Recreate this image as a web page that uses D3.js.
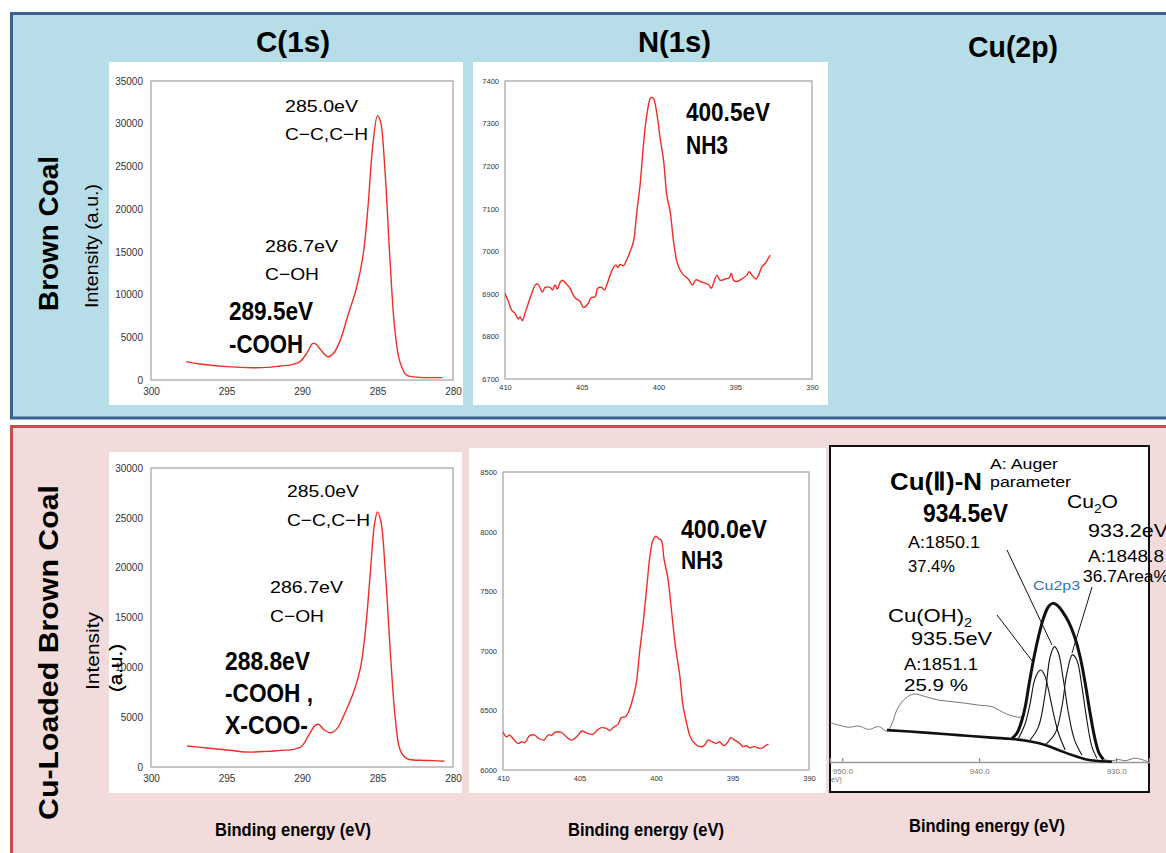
<!DOCTYPE html>
<html>
<head>
<meta charset="utf-8">
<script src="https://cdn.jsdelivr.net/npm/d3@7"></script>
<style>
  html, body { margin: 0; padding: 0; background: #ffffff; }
  svg { display: block; }
</style>
</head>
<body>
<svg id="fig" width="1166" height="853"></svg>
<script>
// ---------- spectra: binding energy (eV) and counts ----------
const c1sBrownEnergy = [297.67, 296.74, 294.98, 293.22, 292.33, 291.45, 290.57, 290.13, 289.69, 289.3, 289.1, 288.75, 288.3, 287.95, 287.5, 286.95, 286.4, 285.95, 285.62, 285.33, 285.0, 284.8, 284.5, 284.19, 283.86, 283.52, 283.08, 282.2, 281.32, 280.7];
const c1sBrownCounts = [2150, 1870, 1560, 1440, 1480, 1640, 1830, 2150, 3120, 4250, 4230, 3510, 2730, 3040, 4490, 7610, 10730, 14630, 20490, 27120, 30950, 30240, 24390, 14630, 6050, 2150, 590, 310, 275, 275];

const c1sCuEnergy = [297.62, 296.29, 294.97, 293.64, 292.32, 291.43, 290.55, 290.0, 289.56, 289.12, 288.9, 288.57, 288.12, 287.68, 287.13, 286.58, 286.14, 285.81, 285.47, 285.21, 285.0, 284.77, 284.48, 284.15, 283.82, 283.49, 283.05, 282.16, 281.28, 280.57];
const c1sCuCounts = [2110, 1910, 1710, 1500, 1570, 1670, 1770, 2110, 3180, 4180, 4280, 3780, 3440, 3850, 5520, 7520, 9870, 13540, 19560, 24240, 25600, 24580, 19560, 11540, 4850, 1670, 840, 670, 640, 570];

const n1sBrownEnergy = [410.0, 409.78, 409.57, 409.35, 409.13, 409.02, 408.87, 408.7, 408.48, 408.26, 408.0, 407.83, 407.57, 407.39, 407.07, 406.91, 406.74, 406.59, 406.41, 406.26, 406.04, 405.76, 405.61, 405.39, 405.11, 404.89, 404.57, 404.39, 404.13, 403.96, 403.7, 403.52, 403.37, 403.15, 402.93, 402.78, 402.65, 402.5, 402.28, 402.07, 401.85, 401.63, 401.41, 401.2, 400.98, 400.76, 400.5, 400.33, 400.11, 399.89, 399.67, 399.46, 399.24, 399.02, 398.8, 398.59, 398.37, 398.09, 397.78, 397.57, 397.28, 396.96, 396.74, 396.57, 396.41, 396.2, 395.98, 395.65, 395.39, 395.26, 395.11, 394.89, 394.57, 394.24, 394.09, 393.91, 393.65, 393.48, 393.26, 393.04, 392.87, 392.72];
const n1sBrownCounts = [6901, 6882, 6862, 6854, 6841, 6846, 6837, 6854, 6878, 6901, 6922, 6922, 6904, 6915, 6915, 6909, 6921, 6911, 6927, 6932, 6925, 6913, 6901, 6889, 6882, 6868, 6878, 6891, 6893, 6913, 6915, 6909, 6921, 6944, 6962, 6968, 6962, 6969, 6966, 6980, 6999, 7023, 7093, 7156, 7250, 7320, 7361, 7359, 7324, 7265, 7214, 7132, 7093, 7023, 6976, 6956, 6944, 6936, 6921, 6933, 6929, 6925, 6922, 6913, 6925, 6944, 6932, 6935, 6938, 6948, 6932, 6929, 6935, 6944, 6952, 6944, 6935, 6944, 6964, 6972, 6982, 6991];

const n1sCuEnergy = [410.0, 409.78, 409.56, 409.35, 409.02, 408.76, 408.58, 408.26, 407.93, 407.67, 407.32, 407.06, 406.8, 406.62, 406.19, 405.86, 405.53, 405.14, 404.84, 404.49, 404.12, 403.83, 403.57, 403.25, 403.03, 402.81, 402.48, 402.27, 402.0, 401.79, 401.57, 401.29, 401.07, 400.81, 400.57, 400.39, 400.2, 400.0, 399.83, 399.65, 399.48, 399.22, 399.0, 398.74, 398.45, 398.24, 398.02, 397.76, 397.47, 397.15, 396.86, 396.6, 396.34, 396.06, 395.84, 395.56, 395.29, 395.12, 394.86, 394.53, 394.31, 394.1, 393.88, 393.55, 393.29, 393.01, 392.79, 392.64];
const n1sCuCounts = [6321, 6279, 6293, 6265, 6223, 6237, 6229, 6288, 6293, 6265, 6251, 6293, 6293, 6316, 6316, 6279, 6251, 6285, 6327, 6307, 6299, 6335, 6355, 6349, 6330, 6355, 6383, 6439, 6447, 6489, 6573, 6726, 6992, 7271, 7578, 7802, 7927, 7961, 7941, 7927, 7774, 7606, 7355, 7047, 6796, 6545, 6405, 6279, 6223, 6196, 6204, 6251, 6237, 6223, 6237, 6204, 6237, 6271, 6251, 6223, 6196, 6204, 6187, 6196, 6182, 6187, 6209, 6215];

// Cu 2p3/2 region (arbitrary intensity units)
const cuRawEnergy = [950.88, 950.27, 949.54, 948.81, 948.08, 947.35, 946.74, 946.37, 946.01, 945.52, 944.8, 943.94, 942.97, 941.99, 941.02, 940.05, 939.07, 938.34, 937.61, 936.88, 936.64, 936.35, 936.04, 935.67, 935.31, 934.94, 934.65, 934.33, 933.92, 933.48, 933.04, 932.63, 932.26, 931.9, 931.53, 931.24, 931.04, 930.31, 929.83, 929.34, 928.61, 927.69];
const cuRawCounts = [12.4, 11.7, 11.0, 11.4, 10.3, 11.2, 9.8, 12.2, 16.5, 19.6, 21.5, 20.7, 19.6, 19.1, 18.6, 18.0, 17.5, 15.9, 14.6, 14.3, 17.5, 24.9, 32.3, 39.7, 45.5, 49.2, 50.2, 49.7, 47.6, 44.4, 39.7, 33.3, 24.9, 15.4, 7.0, 2.7, 1.2, 0.4, 0.8, 0.4, 1.2, 0.1];
const cuEnvelopeEnergy = [937.61, 937.25, 936.88, 936.64, 936.35, 936.04, 935.67, 935.31, 934.94, 934.65, 934.33, 933.92, 933.48, 933.04, 932.63, 932.26, 931.9, 931.53, 931.24, 930.93];
const cuEnvelopeCounts = [7.5, 9.1, 13.3, 17.5, 24.9, 32.3, 39.7, 45.5, 49.2, 50.2, 49.7, 47.6, 44.4, 39.7, 33.3, 24.9, 15.4, 7.0, 2.7, 0.8];
const cuBackgroundEnergy = [946.74, 943.94, 941.51, 939.07, 937.61, 936.15, 935.18, 934.21, 933.23, 932.26, 931.29, 930.31];
const cuBackgroundCounts = [10.1, 9.3, 8.5, 7.7, 7.3, 6.4, 5.4, 3.8, 2.2, 0.9, 0.3, 0.1];
const cuOHEnergy = [937.13, 936.64, 936.28, 935.96, 935.67, 935.5, 935.23, 934.94, 934.58, 934.21, 933.72];
const cuOHCounts = [7.5, 12.2, 18.6, 25.9, 28.6, 29.1, 27.5, 22.8, 15.4, 9.1, 3.8];
const cuNEnergy = [936.28, 935.67, 935.18, 934.82, 934.5, 934.21, 933.85, 933.48, 933.04, 932.5];
const cuNCounts = [7.0, 11.2, 21.7, 33.3, 36.5, 34.4, 25.9, 15.4, 7.0, 2.2];
const cu2OEnergy = [935.18, 934.45, 933.96, 933.6, 933.2, 932.87, 932.5, 932.14, 931.77, 931.41];
const cu2OCounts = [5.4, 9.1, 17.5, 28.1, 33.9, 32.3, 23.8, 13.3, 4.8, 1.2];

// ---------- axis ticks ----------
const c1sTicksX = [300, 295, 290, 285, 280];
const c1sBrownTicksY = [0, 5000, 10000, 15000, 20000, 25000, 30000, 35000];
const c1sCuTicksY = [0, 5000, 10000, 15000, 20000, 25000, 30000];
const n1sTicksX = [410, 405, 400, 395, 390];
const n1sBrownTicksY = [6700, 6800, 6900, 7000, 7100, 7200, 7300, 7400];
const n1sCuTicksY = [6000, 6500, 7000, 7500, 8000, 8500];
const cuTicksX = [950, 940, 930];

// ---------- text ----------
const columnTitles = ["C(1s)", "N(1s)", "Cu(2p)"];
const rowTitles = ["Brown Coal", "Cu-Loaded Brown Coal"];
const xTitle = "Binding energy (eV)";

const svg = d3.select("#fig");
const SANS = "'Liberation Sans', Arial, 'Noto Sans CJK JP', sans-serif";
const NARROW = "'Liberation Sans Narrow', 'Liberation Sans', Arial, sans-serif";
const LINE_RED = "#ee2e24";

// ---------- bands ----------
svg.append("rect").attr("x", 11.5).attr("y", 13.5).attr("width", 1170).attr("height", 404.5)
  .attr("fill", "#b7dde8").attr("stroke", "#3b6192").attr("stroke-width", 3);
svg.append("rect").attr("x", 11.5).attr("y", 426.5).attr("width", 1170).attr("height", 440)
  .attr("fill", "#f2dcdb").attr("stroke", "#c0504d").attr("stroke-width", 3);

// ---------- white chart cards ----------
[[109, 62, 354, 343], [473, 62, 355, 343], [109, 452, 353, 341], [469, 448, 357, 345]].forEach(r => {
  svg.append("rect").attr("x", r[0]).attr("y", r[1]).attr("width", r[2]).attr("height", r[3]).attr("fill", "#fff");
});

// text helper with fixed advance width
function label(g, str, x, y, size, width, opt = {}) {
  const t = g.append("text").attr("x", x).attr("y", y)
    .attr("font-family", opt.family || SANS)
    .attr("font-size", size)
    .attr("font-weight", opt.weight || "normal")
    .attr("fill", opt.fill || "#000")
    .attr("text-anchor", opt.anchor || "start");
  if (opt.rotate) t.attr("transform", `rotate(-90,${x},${y})`);
  if (Array.isArray(str)) {
    str.forEach(p => {
      const s = t.append("tspan").text(p.t);
      if (p.sub) s.attr("font-size", size * 0.65).attr("dy", size * 0.25);
      if (p.back) s.attr("dy", -size * 0.25);
    });
  } else t.text(str);
  if (width) t.attr("textLength", width).attr("lengthAdjust", "spacingAndGlyphs");
  return t;
}

// ---------- titles ----------
const B = { family: NARROW, weight: "bold" };
label(svg, columnTitles[0], 256, 52, 30, 74, B);
label(svg, columnTitles[1], 638, 52, 30, 73, B);
label(svg, columnTitles[2], 968, 57, 30, 90, B);
label(svg, rowTitles[0], 58, 311, 28, 155, { family: NARROW, weight: "bold", rotate: true });
label(svg, "Intensity (a.u.)", 98, 308, 18, 124, { family: NARROW, rotate: true });
label(svg, rowTitles[1], 58, 820, 28, 335, { family: NARROW, weight: "bold", rotate: true });
label(svg, "Intensity", 99, 690, 18, 78, { family: NARROW, rotate: true });
label(svg, "(a.u.)", 122, 692, 18, 48, { family: NARROW, rotate: true });
label(svg, xTitle, 215, 836, 18, 156, B);
label(svg, xTitle, 568, 836, 18, 156, B);
label(svg, xTitle, 909, 832, 18, 156, B);

// ---------- spectrum panel ----------
function spectrum(box, xDom, yDom, xTicks, yTicks, energy, counts, fs, xLabelGap) {
  const g = svg.append("g");
  const x = d3.scaleLinear().domain(xDom).range([box.x0, box.x1]);
  const y = d3.scaleLinear().domain(yDom).range([box.y1, box.y0]);
  g.append("rect").attr("x", box.x0).attr("y", box.y0)
    .attr("width", box.x1 - box.x0).attr("height", box.y1 - box.y0)
    .attr("fill", "none").attr("stroke", "#a0a0a0").attr("stroke-width", 1.2);
  const ax = g.append("g").attr("transform", `translate(0,${box.y1})`)
    .call(d3.axisBottom(x).tickValues(xTicks).tickSize(0).tickPadding(xLabelGap).tickFormat(d3.format("d")));
  const ay = g.append("g").attr("transform", `translate(${box.x0},0)`)
    .call(d3.axisLeft(y).tickValues(yTicks).tickSize(0).tickPadding(fs * 0.8).tickFormat(d3.format("d")));
  [ax, ay].forEach(a => {
    a.select(".domain").remove();
    a.selectAll("text").attr("font-family", SANS).attr("font-size", fs).attr("fill", "#333");
  });
  const pts = energy.map((e, i) => [e, counts[i]]);
  g.append("path").datum(pts)
    .attr("fill", "none").attr("stroke", LINE_RED).attr("stroke-width", 1.4)
    .attr("d", d3.line().x(d => x(d[0])).y(d => y(d[1])).curve(d3.curveCatmullRom.alpha(0.5)));
  return g;
}

const gTL = spectrum({ x0: 151, x1: 453, y0: 81, y1: 380 }, [300, 280], [0, 35000], c1sTicksX, c1sBrownTicksY, c1sBrownEnergy, c1sBrownCounts, 10, 8);
const gTM = spectrum({ x0: 505, x1: 812, y0: 81, y1: 379 }, [410, 390], [6700, 7400], n1sTicksX, n1sBrownTicksY, n1sBrownEnergy, n1sBrownCounts, 7.5, 6);
const gBL = spectrum({ x0: 151, x1: 453, y0: 468, y1: 767 }, [300, 280], [0, 30000], c1sTicksX, c1sCuTicksY, c1sCuEnergy, c1sCuCounts, 10, 8);
const gBM = spectrum({ x0: 503, x1: 809, y0: 472, y1: 770 }, [410, 390], [6000, 8500], n1sTicksX, n1sCuTicksY, n1sCuEnergy, n1sCuCounts, 7.5, 6);

// the bottom-left axis caption sits over the card
label(svg, "(a.u.)", 122, 692, 18, 48, { family: NARROW, rotate: true });

// peak assignments
const H = { family: NARROW, weight: "bold" };
label(gTL, "285.0eV", 285, 112, 17, 73);
label(gTL, "C\u2212C,C\u2212H", 285, 140, 17, 83);
label(gTL, "286.7eV", 265, 252, 17, 73);
label(gTL, "C\u2212OH", 265, 280, 17, 54);
label(gTL, "289.5eV", 229, 320, 25, 84, H);
label(gTL, "-COOH", 229, 353, 25, 74, H);

label(gTM, "400.5eV", 686, 121, 26, 84, H);
label(gTM, "NH3", 686, 154, 26, 42, H);

label(gBL, "285.0eV", 287, 497, 17, 72);
label(gBL, "C\u2212C,C\u2212H", 287, 526, 17, 83);
label(gBL, "286.7eV", 270, 593, 17, 73);
label(gBL, "C\u2212OH", 270, 622, 17, 54);
label(gBL, "288.8eV", 225, 670, 25, 85, H);
label(gBL, "-COOH ,", 225, 702, 25, 88, H);
label(gBL, "X-COO-", 225, 734, 25, 83, H);

label(gBM, "400.0eV", 681, 538, 26, 86, H);
label(gBM, "NH3", 681, 569, 26, 42, H);

// ---------- Cu 2p panel ----------
const cu = svg.append("g");
cu.append("rect").attr("x", 830).attr("y", 446).attr("width", 319).attr("height", 346)
  .attr("fill", "#fff").attr("stroke", "#111").attr("stroke-width", 2);
const cx = d3.scaleLinear().domain([950.9, 927.6]).range([830, 1149]);
const cy = d3.scaleLinear().domain([0, 100]).range([762, 446]);
const cuAxis = cu.append("g").attr("transform", "translate(0,762)")
  .call(d3.axisTop(cx).tickValues(cuTicksX).tickSize(4).tickFormat(d3.format(".1f")));
cuAxis.select(".domain").attr("stroke", "#999").attr("stroke-width", 1.5);
cuAxis.selectAll("line").attr("stroke", "#777");
cuAxis.selectAll("text").attr("y", 12).attr("dy", 0).attr("font-family", SANS)
  .attr("font-size", 8).attr("fill", "#777");
label(cu, "eV)", 831, 782, 7, null, { fill: "#777" });

const cline = d3.line().x(d => cx(d[0])).y(d => cy(d[1])).curve(d3.curveCatmullRom.alpha(0.5));
const pair = (e, c) => e.map((v, i) => [v, c[i]]);
cu.append("path").datum(pair(cuRawEnergy, cuRawCounts)).attr("d", cline)
  .attr("fill", "none").attr("stroke", "#777").attr("stroke-width", 1);
[[cuOHEnergy, cuOHCounts], [cuNEnergy, cuNCounts], [cu2OEnergy, cu2OCounts]].forEach(s => {
  cu.append("path").datum(pair(s[0], s[1])).attr("d", cline)
    .attr("fill", "none").attr("stroke", "#111").attr("stroke-width", 1.1);
});
cu.append("path").datum(pair(cuBackgroundEnergy, cuBackgroundCounts)).attr("d", cline)
  .attr("fill", "none").attr("stroke", "#111").attr("stroke-width", 2.6);
cu.append("path").datum(pair(cuEnvelopeEnergy, cuEnvelopeCounts)).attr("d", cline)
  .attr("fill", "none").attr("stroke", "#111").attr("stroke-width", 3);

// leader lines from labels to component peaks
[[1007, 550, 1052, 645], [997, 615, 1033, 662], [1092, 587, 1072, 653]].forEach(l => {
  cu.append("line").attr("x1", l[0]).attr("y1", l[1]).attr("x2", l[2]).attr("y2", l[3])
    .attr("stroke", "#111").attr("stroke-width", 1);
});

label(cu, "Cu(\u2161)-N", 890, 490, 24, 92, H);
label(cu, "A: Auger", 990, 469, 14, 68);
label(cu, "parameter", 990, 487, 14, 81);
label(cu, "934.5eV", 923, 522, 25, 85, H);
label(cu, "A:1850.1", 908, 548, 17, 72);
label(cu, "37.4%", 908, 572, 17, 47);
label(cu, [{ t: "Cu" }, { t: "2", sub: true }, { t: "O", back: true }], 1067, 508, 19, 51);
label(cu, "933.2eV", 1088, 537, 19, 80);
label(cu, "A:1848.8", 1088, 562, 17, 76);
label(cu, "36.7Area%", 1083, 582, 17, 86);
label(cu, "Cu2p3", 1033, 590, 13, 47, { fill: "#2f74c0" });
label(cu, [{ t: "Cu(OH)" }, { t: "2", sub: true }], 888, 622, 19, 84);
label(cu, "935.5eV", 911, 645, 19, 81);
label(cu, "A:1851.1", 904, 670, 17, 74);
label(cu, "25.9  %", 904, 691, 17, 64);
</script>
</body>
</html>
